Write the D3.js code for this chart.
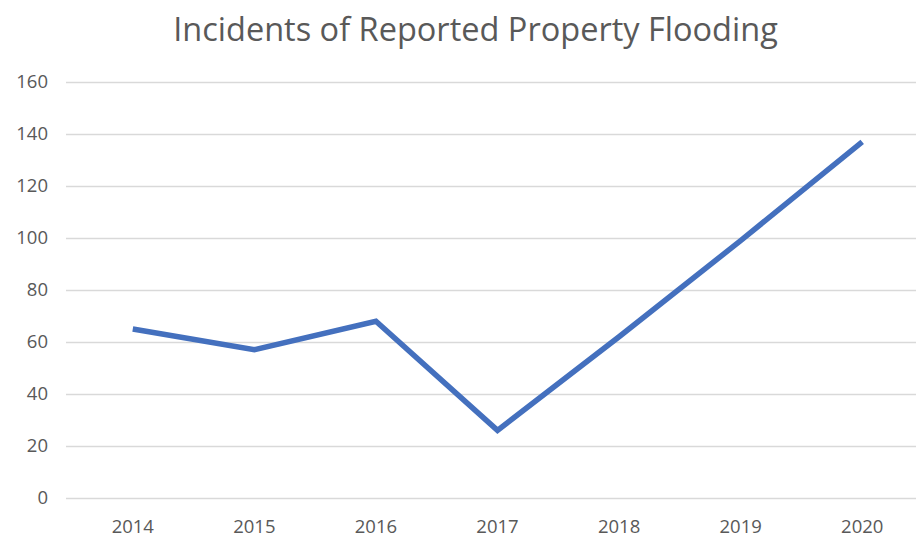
<!DOCTYPE html>
<html>
<head>
<meta charset="utf-8">
<script src="https://cdn.jsdelivr.net/npm/d3@7"></script>
<style>
  html, body { margin: 0; padding: 0; background: #fff; }
  svg { display: block; }
</style>
</head>
<body>
<svg id="chart" width="917" height="538"></svg>
<script>
const years = ["2014", "2015", "2016", "2017", "2018", "2019", "2020"];
const incidents = [65, 57, 68, 26, 62, 99, 137];
const yTicks = [0, 20, 40, 60, 80, 100, 120, 140, 160];
const chartTitle = "Incidents of Reported Property Flooding";

const W = 917, H = 538;
const plot = { left: 66, right: 916, top: 82, bottom: 498 };
const textColor = "#595959";
const font = "'Open Sans', 'Noto Sans', sans-serif";

const svg = d3.select("#chart");

const band = d3.scaleBand().domain(years).range([72, 923]).paddingInner(0).paddingOuter(0);
const x = d => band(d) + band.bandwidth() / 2;
const y = d3.scaleLinear().domain([0, 160]).range([plot.bottom, plot.top]);

// Gridlines via axis
const yGrid = d3.axisLeft(y).tickValues(yTicks).tickSize(-(plot.right - plot.left)).tickFormat("");
const gGrid = svg.append("g").attr("transform", `translate(${plot.left},0)`).call(yGrid);
gGrid.select(".domain").remove();
gGrid.selectAll(".tick line").attr("stroke", "#d9d9d9").attr("stroke-width", 1.3);

// Y labels
const yAxis = d3.axisLeft(y).tickValues(yTicks).tickSize(0).tickPadding(0);
const gY = svg.append("g").attr("transform", `translate(48,0)`).call(yAxis);
gY.select(".domain").remove();
gY.selectAll(".tick text").attr("fill", textColor).attr("font-family", font).attr("font-size", 18.5).attr("text-anchor", "end");

// X labels
const xAxis = d3.axisBottom(band).tickSize(0).tickPadding(0);
const gX = svg.append("g").attr("transform", `translate(0,520)`).call(xAxis);
gX.select(".domain").remove();
gX.selectAll(".tick text").attr("fill", textColor).attr("font-family", font).attr("font-size", 18.5);

// Line
const line = d3.line().x((d, i) => x(years[i])).y(d => y(d));
svg.append("path")
  .datum(incidents)
  .attr("fill", "none")
  .attr("stroke", "#4470BE")
  .attr("stroke-width", 5.5)
  .attr("stroke-linejoin", "miter")
  .attr("stroke-linecap", "butt")
  .attr("d", line);

// Title
const t = svg.append("text")
  .attr("x", 475.5)
  .attr("y", 41)
  .attr("text-anchor", "middle")
  .attr("fill", textColor)
  .attr("font-family", font)
  .attr("font-size", 30)
  .text(chartTitle);
const len = t.node().getComputedTextLength();
t.attr("font-size", 30 * 605 / len);
</script>
</body>
</html>
